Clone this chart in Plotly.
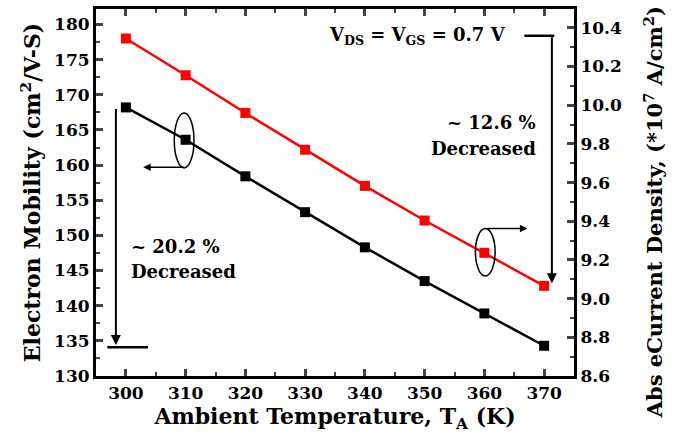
import plotly.graph_objects as go

temps = [300, 310, 320, 330, 340, 350, 360, 370]
mobility = [168.2, 163.6, 158.4, 153.3, 148.3, 143.5, 138.9, 134.3]
current = [10.345, 10.155, 9.96, 9.77, 9.583, 9.404, 9.237, 9.066]

FONT = "DejaVu Serif"
fig = go.Figure()
fig.add_trace(go.Scatter(x=temps, y=mobility, mode="lines+markers",
                         line=dict(color="black", width=2.5),
                         marker=dict(symbol="square", size=10, color="black"),
                         yaxis="y", showlegend=False))
fig.add_trace(go.Scatter(x=temps, y=current, mode="lines+markers",
                         line=dict(color="#ff0000", width=2.5),
                         marker=dict(symbol="square", size=10, color="#ff0000"),
                         yaxis="y2", showlegend=False))

tickfont = dict(family=FONT, size=17, color="black", weight="bold")
titlefont = dict(family=FONT, size=22, color="black", weight="bold")


def px(xp):
    return (xp - 96) / 478


def py(yp):
    return 1 - (yp - 6) / 370


fig.update_layout(
    width=682, height=443,
    margin=dict(l=96, r=108, t=6, b=67),
    plot_bgcolor="white", paper_bgcolor="white",
    xaxis=dict(range=[295, 375], tickvals=temps, ticks="inside", ticklen=7, tickwidth=2.5,
               showline=True, linewidth=3, linecolor="black", mirror="ticks",
               showgrid=False, zeroline=False, tickfont=tickfont,
               minor=dict(ticks="inside", ticklen=4, tickwidth=2, dtick=5, tick0=295, showgrid=False),
               title=dict(text="Ambient Temperature, T<sub>A</sub> (K)", font=titlefont, standoff=4)),
    yaxis=dict(range=[130, 182.2], dtick=5, tick0=130, ticks="inside", ticklen=7, tickwidth=2.5,
               showline=True, linewidth=3, linecolor="black", mirror=False,
               showgrid=False, zeroline=False, tickfont=tickfont,
               minor=dict(ticks="inside", ticklen=4, tickwidth=2, dtick=2.5, showgrid=False),
               title=dict(text="Electron Mobility (cm<sup>2</sup>/V-S)", font=titlefont, standoff=8)),
    yaxis2=dict(range=[8.6, 10.4975], dtick=0.2, tick0=8.6, ticks="inside", ticklen=7, tickwidth=2.5,
                overlaying="y", side="right", tickformat=".1f",
                showline=True, linewidth=3, linecolor="black",
                showgrid=False, zeroline=False, tickfont=tickfont,
                minor=dict(ticks="inside", ticklen=4, tickwidth=2, dtick=0.1, showgrid=False)),
)

# Right axis title (placed as annotation so it can be centred like the reference)
fig.add_annotation(x=px(654), y=py(211), xref="paper", yref="paper", textangle=-90,
                   text="Abs eCurrent Density, (*10<sup>7</sup> A/cm<sup>2</sup>)",
                   showarrow=False, font=dict(family=FONT, size=21, color="black", weight="bold"),
                   xanchor="center", yanchor="middle")

afont = dict(family=FONT, size=18, color="black", weight="bold")

fig.add_annotation(x=px(417), y=py(33), xref="paper", yref="paper",
                   text="V<sub>DS</sub> = V<sub>GS</sub> = 0.7 V", showarrow=False, font=afont,
                   xanchor="center", yanchor="middle")
fig.add_annotation(x=px(538), y=py(120), xref="paper", yref="paper",
                   text="~ 12.6 %", showarrow=False, font=afont, xanchor="right", yanchor="middle")
fig.add_annotation(x=px(538), y=py(147), xref="paper", yref="paper",
                   text="Decreased", showarrow=False, font=afont, xanchor="right", yanchor="middle")
fig.add_annotation(x=px(129), y=py(245), xref="paper", yref="paper",
                   text="~ 20.2 %", showarrow=False, font=afont, xanchor="left", yanchor="middle")
fig.add_annotation(x=px(129), y=py(271), xref="paper", yref="paper",
                   text="Decreased", showarrow=False, font=afont, xanchor="left", yanchor="middle")

# Ellipses
fig.add_shape(type="circle", xref="x", yref="y", x0=308.1, x1=311.4, y0=159.6, y1=167.4,
              line=dict(color="black", width=1.5))
fig.add_shape(type="circle", xref="x", yref="y2", x0=358.5, x1=361.8, y0=9.117, y1=9.363,
              line=dict(color="black", width=1.5))

# Ellipse arrows
fig.add_annotation(x=302.9, y=159.7, ax=310.0, ay=159.7, xref="x", yref="y", axref="x", ayref="y",
                   text="", showarrow=True, arrowhead=2, arrowsize=1, arrowwidth=1.5, arrowcolor="black")
fig.add_annotation(x=367.2, y=9.363, ax=360.3, ay=9.363, xref="x", yref="y2", axref="x", ayref="y2",
                   text="", showarrow=True, arrowhead=2, arrowsize=1, arrowwidth=1.5, arrowcolor="black")

# Left decrease arrow
fig.add_annotation(x=298.33, y=134.4, ax=298.33, ay=168.2, xref="x", yref="y", axref="x", ayref="y",
                   text="", showarrow=True, arrowhead=2, arrowsize=1, arrowwidth=2, arrowcolor="black")
fig.add_shape(type="line", xref="x", yref="y", x0=296.9, x1=303.7, y0=134.1, y1=134.1,
              line=dict(color="black", width=2.5))

# Right decrease arrow
fig.add_annotation(x=371.3, y=9.08, ax=371.3, ay=10.359, xref="x", yref="y2", axref="x", ayref="y2",
                   text="", showarrow=True, arrowhead=2, arrowsize=1, arrowwidth=2, arrowcolor="black")
fig.add_shape(type="line", xref="x", yref="y2", x0=366.7, x1=371.7, y0=10.359, y1=10.359,
              line=dict(color="black", width=2.5))

fig.write_html("out.html")
